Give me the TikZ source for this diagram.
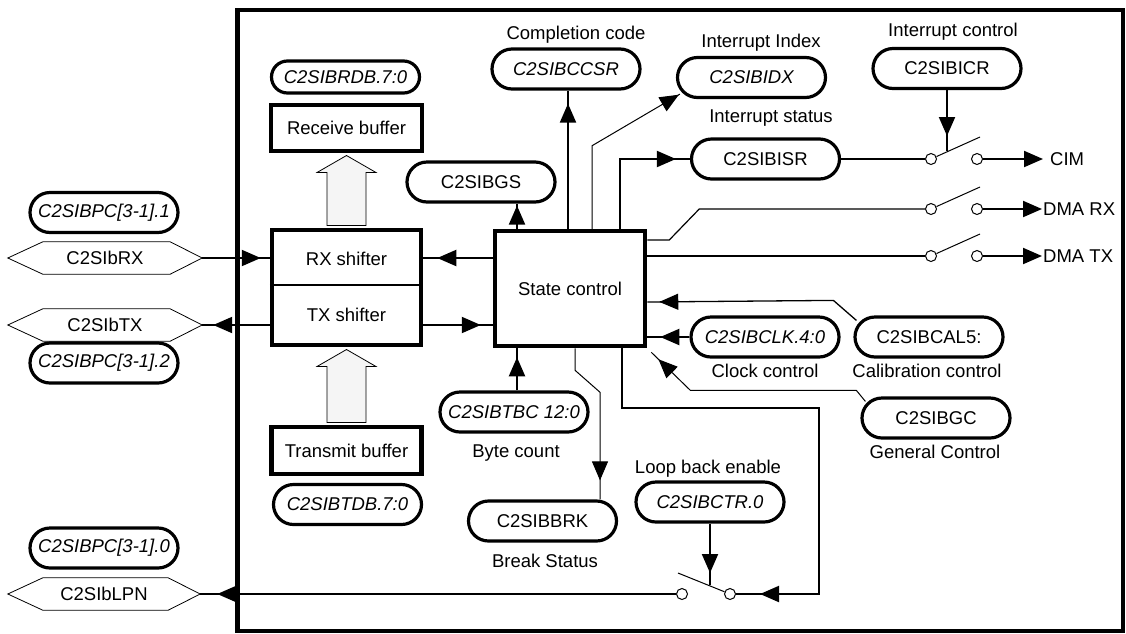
\documentclass[tikz,border=0pt]{standalone}
\usepackage{fontspec}
\setmainfont{Liberation Sans}
\usetikzlibrary{arrows.meta,calc,decorations.markings}
\newcommand\hexout[1]{\draw[line width=0.8pt] (#1.west) -- ([xshift=35pt]#1.north west) -- ([xshift=-32pt]#1.north east) -- (#1.east) -- ([xshift=-32pt]#1.south east) -- ([xshift=35pt]#1.south west) -- cycle;}
\begin{document}
\begin{tikzpicture}[x=1pt,y=-1pt,
  every node/.style={font=\fontsize{18.5}{22}\selectfont},
  pill/.style={draw, line width=3.2pt, rounded corners=20pt, minimum width=148pt, minimum height=40pt, inner sep=0pt},
  ipill/.style={pill, font=\fontsize{18.5}{22}\selectfont\itshape},
  blk/.style={draw, line width=4.5pt, inner sep=0pt},
  hexn/.style={minimum width=194pt, minimum height=32pt, inner sep=0pt},
  lab/.style={anchor=base, inner sep=0pt},
  conn/.style={line width=2pt},
  thinc/.style={line width=1pt},
  tipat/.style={postaction={decorate}, decoration={markings, mark=at position #1 with {\arrow{Triangle[length=19pt,width=16pt]}}}},
  endtip/.style={-{Triangle[length=19pt,width=16pt]}},
  sw/.style={circle, draw, line width=1pt, minimum size=11pt, inner sep=0pt, fill=white},
  bigarrow/.style={draw, line width=0.8pt, fill=black!4, line join=miter},
]
\useasboundingbox (0,0) rectangle (1126,633);
% outer frame
\draw[line width=4.5pt] (237.5,10) rectangle (1123,631);

% main blocks
\node[blk, minimum width=151pt, minimum height=46pt] (rb) at (346.5,128) {Receive buffer};
\node[blk, minimum width=149pt, minimum height=115pt] (sh) at (346.5,287.5) {};
\node (rxs) at (346.5,259) {RX shifter};
\node (txs) at (346.5,315) {TX shifter};
\draw[line width=1.5pt] ($(sh.west)+(0,-2.5)$) -- ($(sh.east)+(0,-2.5)$);
\node[blk, minimum width=150pt, minimum height=47pt] (tb) at (346.5,450.5) {Transmit buffer};
\node[blk, minimum width=150pt, minimum height=115pt] (sc) at (570,288.5) {State control};

% pills
\node[ipill, minimum height=32pt, rounded corners=16pt] (rdb) at (345.5,77) {C2SIBRDB.7:0};
\node[ipill] (cc) at (566,69) {C2SIBCCSR};
\node[ipill] (idx) at (751.5,77.5) {C2SIBIDX};
\node[pill] (isr) at (765.5,159) {C2SIBISR};
\node[pill] (icr) at (947,68.5) {C2SIBICR};
\node[pill] (gs) at (481,182) {C2SIBGS};
\node[ipill] (pc1) at (104,212.5) {C2SIBPC[3-1].1};
\node[ipill] (pc2) at (104,363) {C2SIBPC[3-1].2};
\node[ipill] (pc0) at (104,548) {C2SIBPC[3-1].0};
\node[ipill] (tdb) at (347.5,504.5) {C2SIBTDB.7:0};
\node[ipill] (tbc) at (514,412) {C2SIBTBC 12:0};
\node[pill] (brk) at (542.5,521) {C2SIBBRK};
\node[ipill] (ctr) at (710,502) {C2SIBCTR.0};
\node[ipill] (clk) at (765,337) {C2SIBCLK.4:0};
\node[pill] (cal) at (929,337) {C2SIBCAL5:};
\node[pill] (gc) at (936,418) {C2SIBGC};

% hexagon ports
\node[hexn] (rx) at (105,258) {C2SIbRX};
\hexout{rx}
\node[hexn] (tx) at (105,325) {C2SIbTX};
\hexout{tx}
\node[hexn, minimum width=192pt] (lpn) at (104,594) {C2SIbLPN};
\hexout{lpn}

% labels
\node[lab] (lcc) at (576,39) {Completion code};
\node[lab] (lidx) at (761,47) {Interrupt Index};
\node[lab] (lisr) at (771,122) {Interrupt status};
\node[lab] (licr) at (953,36) {Interrupt control};
\node[lab] (ltbc) at (516,457) {Byte count};
\node[lab] (lbrk) at (545,567) {Break Status};
\node[lab] (lctr) at (708,473) {Loop back enable};
\node[lab] (lclk) at (765,377) {Clock control};
\node[lab] (lcal) at (927,377) {Calibration control};
\node[lab] (lgc) at (935,458) {General Control};
\node[anchor=west, inner sep=0pt] (cim) at (1050,159) {CIM};
\node[anchor=west, inner sep=0pt] (dmarx) at (1043,209) {DMA RX};
\node[anchor=west, inner sep=0pt] (dmatx) at (1043,256) {DMA TX};

% switches
\node[sw] (c1l) at (931,159) {};
\node[sw] (c1r) at (977,159) {};
\coordinate (b1) at (980,137);
\coordinate (k1) at (947,151);
\node[sw] (c2l) at (931,209) {};
\node[sw] (c2r) at (977,209) {};
\coordinate (b2) at (980,187);
\node[sw] (c3l) at (931,256) {};
\node[sw] (c3r) at (977,256) {};
\coordinate (b3) at (980,234);
\node[sw] (c4l) at (682,594) {};
\node[sw] (c4r) at (730,594) {};
\coordinate (b4) at (678,573);
\coordinate (k4) at (710,585);

% hollow arrows
\coordinate (ra) at ([yshift=-2.25pt]rb.south);
\coordinate (rh) at ($(ra)+(0,17)$);
\coordinate (rs) at ([yshift=2.25pt]sh.north);
\filldraw[bigarrow] (ra) -- ($(rh)+(29.5,0)$) -- ($(rh)+(19.5,0)$) -- ($(rs)+(19.5,0)$) -- ($(rs)+(-19.5,0)$) -- ($(rh)+(-19.5,0)$) -- ($(rh)+(-29.5,0)$) -- cycle;
\coordinate (ta) at ([yshift=-2.25pt]sh.south);
\coordinate (th) at ($(ta)+(0,17)$);
\coordinate (ts) at ([yshift=2.25pt]tb.north);
\filldraw[bigarrow] (ta) -- ($(th)+(29.5,0)$) -- ($(th)+(19.5,0)$) -- ($(ts)+(19.5,0)$) -- ($(ts)+(-19.5,0)$) -- ($(th)+(-19.5,0)$) -- ($(th)+(-29.5,0)$) -- cycle;

% anchor points on boxes
\coordinate (tGS) at ($(sc.north)+(-53,0)$);
\coordinate (tCC) at ($(sc.north)+(-2,0)$);
\coordinate (tIDX) at ($(sc.north)+(22,0)$);
\coordinate (tISR) at ($(sc.north)+(50,0)$);
\coordinate (eDR) at ($(sc.east)+(0,-48.5)$);
\coordinate (eDT) at ($(sc.east)+(0,-32.5)$);
\coordinate (eCAL) at ($(sc.east)+(0,13.5)$);
\coordinate (eCLK) at ($(sc.east)+(0,48.5)$);
\coordinate (bTBC) at ($(sc.south)+(-53,0)$);
\coordinate (bBRK) at ($(sc.south)+(5,0)$);
\coordinate (bLB) at ($(sc.south)+(52,0)$);
\coordinate (scRX) at ($(sc.west)+(0,-30.5)$);
\coordinate (scTX) at ($(sc.west)+(0,36.5)$);
\coordinate (shRX) at ($(sh.east)+(0,-29.5)$);
\coordinate (shTX) at ($(sh.east)+(0,37.5)$);
\coordinate (shWRX) at ($(sh.west)+(0,-29.5)$);
\coordinate (shWTX) at ($(sh.west)+(0,37.5)$);

% connectors
\draw[conn,tipat=-9pt] (rx.east) -- (shWRX);
\draw[conn,tipat=-11pt] (shWTX) -- (tx.east);
\draw[conn,tipat=-14pt] (scRX) -- (shRX);
\draw[conn,tipat=-12pt] (shTX) -- (scTX);
\draw[conn,tipat=-2pt] (tGS) -- (tGS |- gs.south);
\draw[conn,tipat=-13pt] (tCC) -- (tCC |- cc.south);
\draw[thinc,tipat=-1pt] (tIDX) -- ++(0,-83) -- ([shift={(4pt,5pt)}]idx.south west);
\draw[conn,tipat=-14pt] (tISR) |- (isr.west);
\draw[conn] (isr.east) -- (c1l);
\draw[thinc] (c1l) -- (b1);
\draw[conn,tipat=-15pt] (icr.south) -- (icr.south |- k1);
\draw[conn,endtip,shorten >=7pt] (c1r) -- (cim.west);
\draw[line width=1.2pt] (eDR) -- ++(22,0) -- ++(30,-31) -- (c2l);
\draw[thinc] (c2l) -- (b2);
\draw[conn,endtip,shorten >=1pt] (c2r) -- (dmarx.west);
\draw[conn] (eDT) -- (c3l);
\draw[thinc] (c3l) -- (b3);
\draw[conn,endtip,shorten >=1pt] (c3r) -- (dmatx.west);
\draw[line width=1.3pt,tipat=-12pt] ([shift={(3pt,-5pt)}]cal.north west) -- ++(-23,-20) -- (eCAL);
\draw[conn,tipat=-13pt] (clk.west) -- (eCLK);
\draw[thinc,tipat=-10pt] ([shift={(5pt,-5pt)}]gc.north west) -- ++(-9,-11) -- ++(-166,0) -- ([shift={(4pt,-4pt)}]sc.south east);
\draw[conn,tipat=-9pt] (tbc.north -| bTBC) -- (bTBC);
\coordinate (q) at ($(bBRK)+(25,44)$);
\draw[thinc,tipat=-19pt] (bBRK) -- ++(0,22) -- (q) -- (q |- brk.north);
\coordinate (lbturn) at (819,408);
\draw[conn,tipat=-24pt] (bLB) |- (lbturn) |- (c4r);
\draw[thinc] (c4r) -- (b4);
\draw[conn,tipat=-12pt] (ctr.south) -- (ctr.south |- k4);
\draw[conn,tipat=-17pt] (c4l) -- (lpn.east);
\end{tikzpicture}
\end{document}
